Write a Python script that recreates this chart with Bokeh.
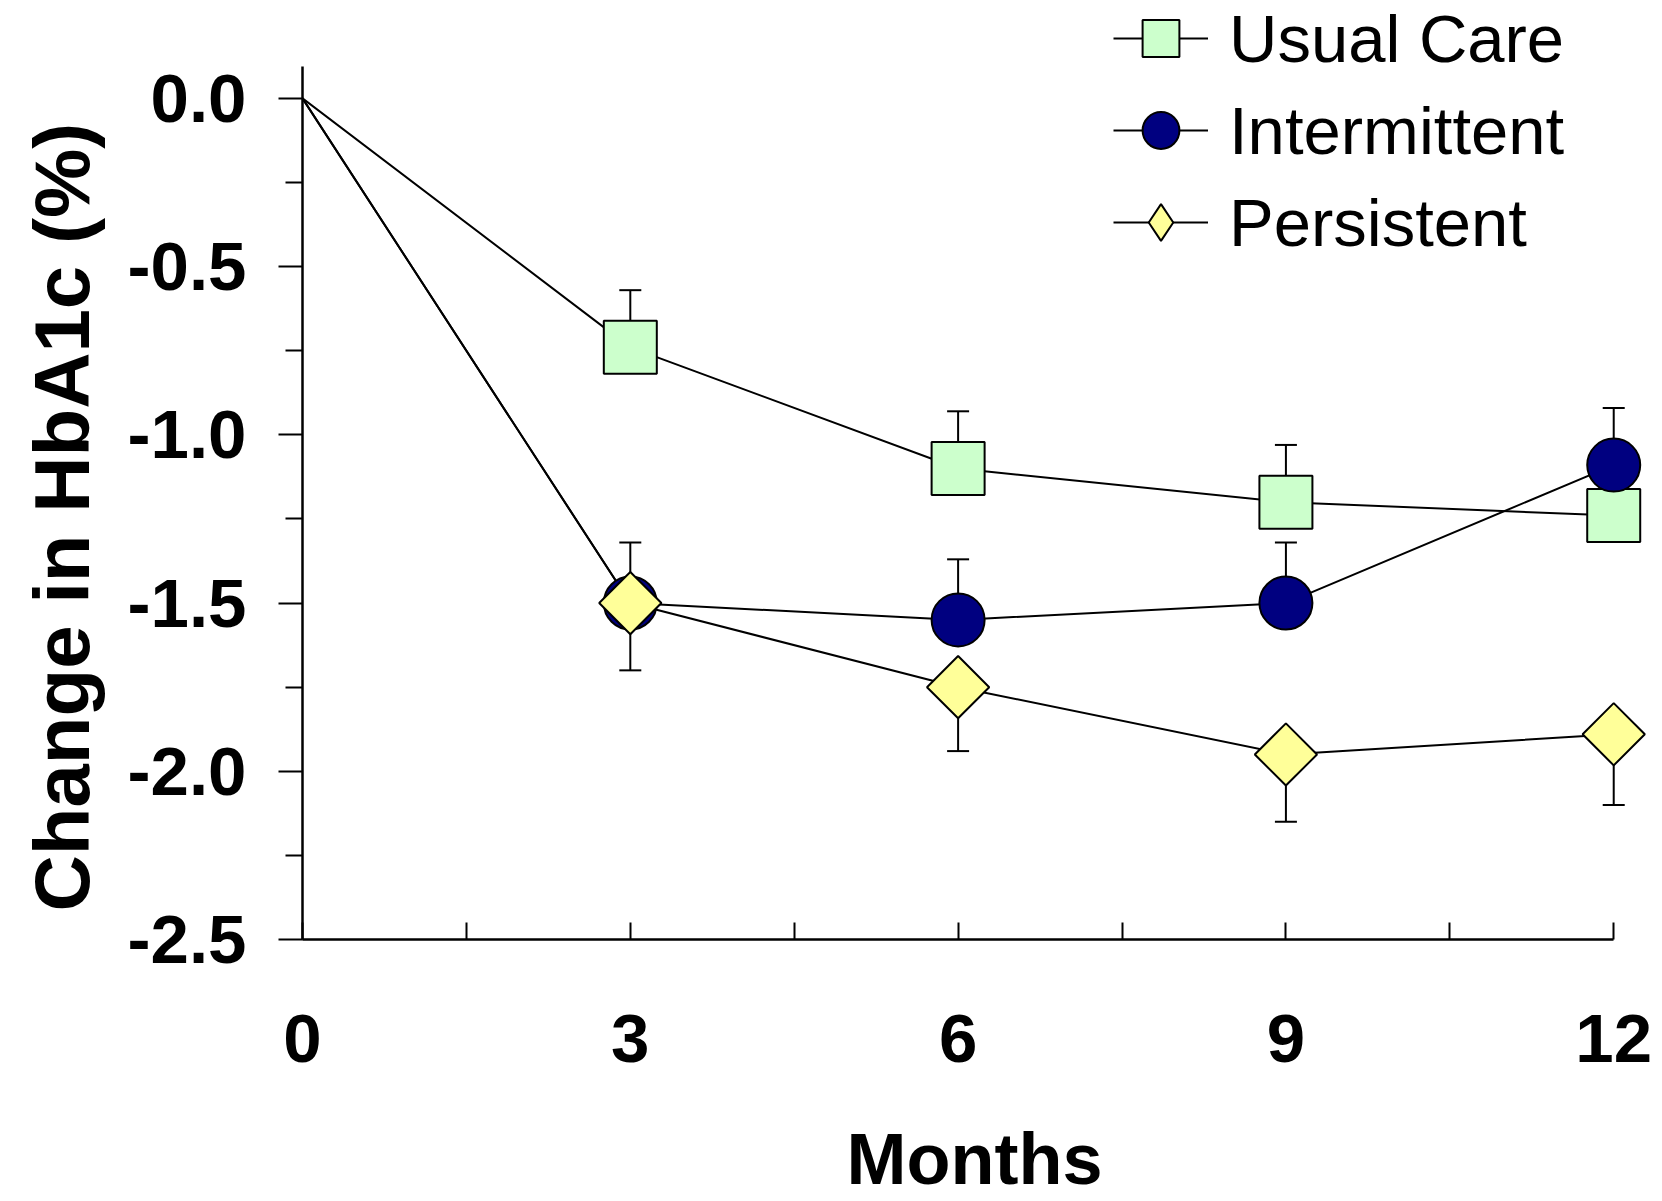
import math
import numpy as np
from bokeh.plotting import figure
from bokeh.models import FixedTicker, Range1d, Legend, LegendItem, Title
from bokeh.embed import file_html
from bokeh.resources import INLINE

# ---- data ----
months = [0, 3, 6, 9, 12]
x_minor = [1.5, 4.5, 7.5, 10.5]
y_ticks = [0.0, -0.5, -1.0, -1.5, -2.0, -2.5]
y_tick_labels = ["0.0", "-0.5", "-1.0", "-1.5", "-2.0", "-2.5"]
y_minor = [-0.25, -0.75, -1.25, -1.75, -2.25]

usual_care = [0.0, -0.74, -1.10, -1.20, -1.24]
usual_care_se = [0.0, 0.17, 0.17, 0.17, 0.18]
intermittent = [0.0, -1.50, -1.55, -1.50, -1.09]
intermittent_se = [0.0, 0.18, 0.18, 0.18, 0.17]
persistent = [0.0, -1.50, -1.75, -1.95, -1.89]
persistent_se = [0.0, 0.20, 0.19, 0.20, 0.21]

FONT = "Liberation Sans"

p = figure(width=1662, height=1201,
           x_range=Range1d(0, 12.3), y_range=Range1d(-2.5, 0.291),
           output_backend="svg", toolbar_location=None,
           min_border_left=302, min_border_right=16,
           min_border_top=0, min_border_bottom=261)
p.outline_line_color = None
p.xgrid.visible = False
p.ygrid.visible = False
p.background_fill_color = "white"
p.border_fill_color = "white"

# x axis
xa = p.xaxis[0]
xa.ticker = FixedTicker(ticks=months, minor_ticks=x_minor)
xa.bounds = (0, 12)
xa.axis_line_width = 2.5
xa.major_tick_in = 17
xa.major_tick_out = 0
xa.minor_tick_in = 17
xa.minor_tick_out = 0
xa.major_tick_line_width = 2
xa.minor_tick_line_width = 2
xa.major_label_standoff = 75
xa.major_label_text_font = FONT
xa.major_label_text_font_style = "bold"
xa.major_label_text_font_size = "69px"
xa.major_label_text_color = "black"
xa.axis_label = "Months"
xa.axis_label_standoff = 54
xa.axis_label_text_font = FONT
xa.axis_label_text_font_style = "bold"
xa.axis_label_text_font_size = "72px"
xa.axis_label_text_color = "black"

# y axis
ya = p.yaxis[0]
ya.ticker = FixedTicker(ticks=y_ticks, minor_ticks=y_minor)
ya.major_label_overrides = {t: l for t, l in zip(y_ticks, y_tick_labels)}
ya.bounds = (-2.5, 0.095)
ya.axis_line_width = 2.5
ya.major_tick_out = 24
ya.major_tick_in = 0
ya.minor_tick_out = 17
ya.minor_tick_in = 0
ya.major_tick_line_width = 2
ya.minor_tick_line_width = 2
ya.major_label_standoff = 32
ya.major_label_text_font = FONT
ya.major_label_text_font_style = "bold"
ya.major_label_text_font_size = "69px"
ya.major_label_text_color = "black"

# ---- series ----
series = [
    ("Usual Care", usual_care, usual_care_se, +1, "square", 53, 0.0, "#CCFFCC"),
    ("Intermittent", intermittent, intermittent_se, +1, "circle", 53, 0.0, "#000080"),
    ("Persistent", persistent, persistent_se, -1, "square", 44, math.pi / 4, "#FFFF99"),
]

lines = {}
for name, vals, se, sign, marker, size, ang, color in series:
    lines[name] = p.line(months, vals, line_color="black", line_width=2)

markers = {}
legend_keys = {}
for name, vals, se, sign, marker, size, ang, color in series:
    x = np.array(months[1:], dtype=float)
    v = np.array(vals[1:], dtype=float)
    e = np.array(se[1:], dtype=float)
    end = v + sign * e
    p.segment(x0=x, y0=v, x1=x, y1=end, line_color="black", line_width=2)
    p.scatter(x=x, y=end, marker="dash", size=22, line_color="black", line_width=2)
    if ang:
        # legend glyphs are drawn unrotated, so the legend key uses a diamond
        # marker placed underneath the (rotated-square) data markers
        legend_keys[name] = p.scatter(x=x, y=v, marker="diamond", size=20,
                                      fill_color=color, line_color="black", line_width=2)
    markers[name] = p.scatter(x=x, y=v, marker=marker, size=size, angle=ang,
                              fill_color=color, line_color="black", line_width=2)
    if not ang:
        legend_keys[name] = markers[name]

legend = Legend(
    items=[LegendItem(label=name, renderers=[lines[name], legend_keys[name]])
           for name, *_ in series],
    location=(811, 671),
    glyph_width=95, glyph_height=92, spacing=0, padding=0, margin=0,
    label_standoff=21,
    label_text_font=FONT, label_text_font_size="67px", label_text_color="black",
    label_text_baseline="middle",
    border_line_color=None, background_fill_alpha=0,
)
p.add_layout(legend)

# y-axis title
p.add_layout(Title(text="Change in HbA1c (%)", align="left", offset=28, vertical_align="top",
                   standoff=34, text_font=FONT, text_font_style="bold",
                   text_font_size="78px", text_color="black"), "left")

open("out.html", "w").write(file_html(p, INLINE))
